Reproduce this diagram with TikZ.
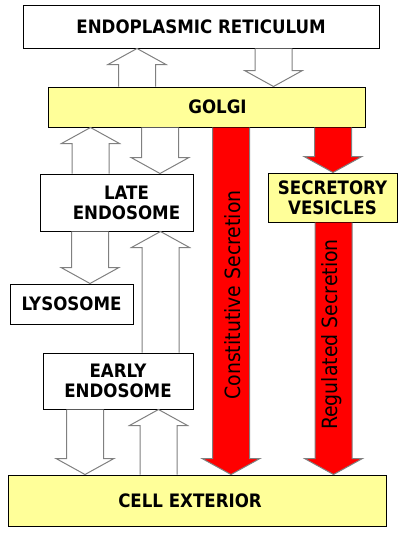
\documentclass[tikz,border=0pt]{standalone}
\usepackage{fontspec}
\setmainfont{DejaVu Sans Condensed}
\usepackage{tikz}
\usetikzlibrary{calc}
\definecolor{paleyellow}{HTML}{FFFF99}
\definecolor{arrowgray}{HTML}{808080}
\def\blockarrow[#1]#2(#3)(#4){\draw[#1] let \p1=(#3), \p2=(#4), \n1={(\y2<\y1) ? 16 : -16} in (#2-18.5,\y1) -- (#2-18.5,\y2+\n1) -- (#2-29,\y2+\n1) -- (#2,\y2) -- (#2+29,\y2+\n1) -- (#2+18.5,\y2+\n1) -- (#2+18.5,\y1);}
\tikzset{
	box/.style={draw=black, line width=1pt, fill=white, inner sep=0pt, align=center, font=\fontsize{18.5}{20}\selectfont\bfseries},
	yellowbox/.style={box, fill=paleyellow},
	whitearr/.style={draw=arrowgray, line width=1pt, fill=white},
	redarr/.style={draw=arrowgray, line width=1pt, fill=red},
	vlabel/.style={rotate=90, inner sep=0pt, font=\fontsize{21}{24}\selectfont}
}

\begin{document}
\begin{tikzpicture}[x=1pt, y=-1pt]
		%%%%% START %%%%%
		\useasboundingbox (0, 0) rectangle (400, 550);
		
		\node[box, minimum width=356, minimum height=43] (er) at (201, 26.5) {ENDOPLASMIC RETICULUM};
		\node[yellowbox, minimum width=317, minimum height=40] (golgi) at (206.5, 107) {\hspace*{22pt}GOLGI};
		
		\node[box, minimum width=153, minimum height=57] (late) at (116.5, 202.5) {\hspace*{20pt}LATE\\\hspace*{20pt}ENDOSOME};
		\node[box, minimum width=123, minimum height=40] (lyso) at (71.5, 304) {LYSOSOME};
		\node[box, minimum width=150, minimum height=56] (early) at (118, 381) {EARLY\\ENDOSOME};
		
		\node[yellowbox, minimum width=129, minimum height=49] (sv) at (332.5, 197.5) {SECRETORY\\VESICLES};
		\node[yellowbox, minimum width=378, minimum height=51] (cell) at (197, 500.5) {CELL EXTERIOR\hspace*{14pt}};
		
		% ER <-> Golgi
		\blockarrow[whitearr]{137}(golgi.north)(er.south)
		\blockarrow[whitearr]{273.5}(er.south)(golgi.north)
		
		% Golgi <-> late endosome
		\blockarrow[whitearr]{90.5}(late.north)(golgi.south)
		\blockarrow[whitearr]{160}(golgi.south)(late.north)
		\blockarrow[whitearr]{90}(late.south)(lyso.north)
		
		% endocytic route
		\blockarrow[whitearr]{160.5}(early.north)(late.south)
		\blockarrow[whitearr]{85}(early.south)(cell.north)
		\blockarrow[whitearr]{158.5}(cell.north)(early.south)
		
		% secretion
		\blockarrow[redarr]{231}(golgi.south)(cell.north)
		\blockarrow[redarr]{333}(golgi.south)(sv.north)
		\blockarrow[redarr]{333.5}(sv.south)(cell.north)
		
		\node[vlabel] (constlbl) at (232.5, 295) {Constitutive Secretion};
		\node[vlabel] (reglbl) at (332, 334.5) {Regulated Secretion};
		%%%%% END %%%%%
	\end{tikzpicture}
\end{document}
